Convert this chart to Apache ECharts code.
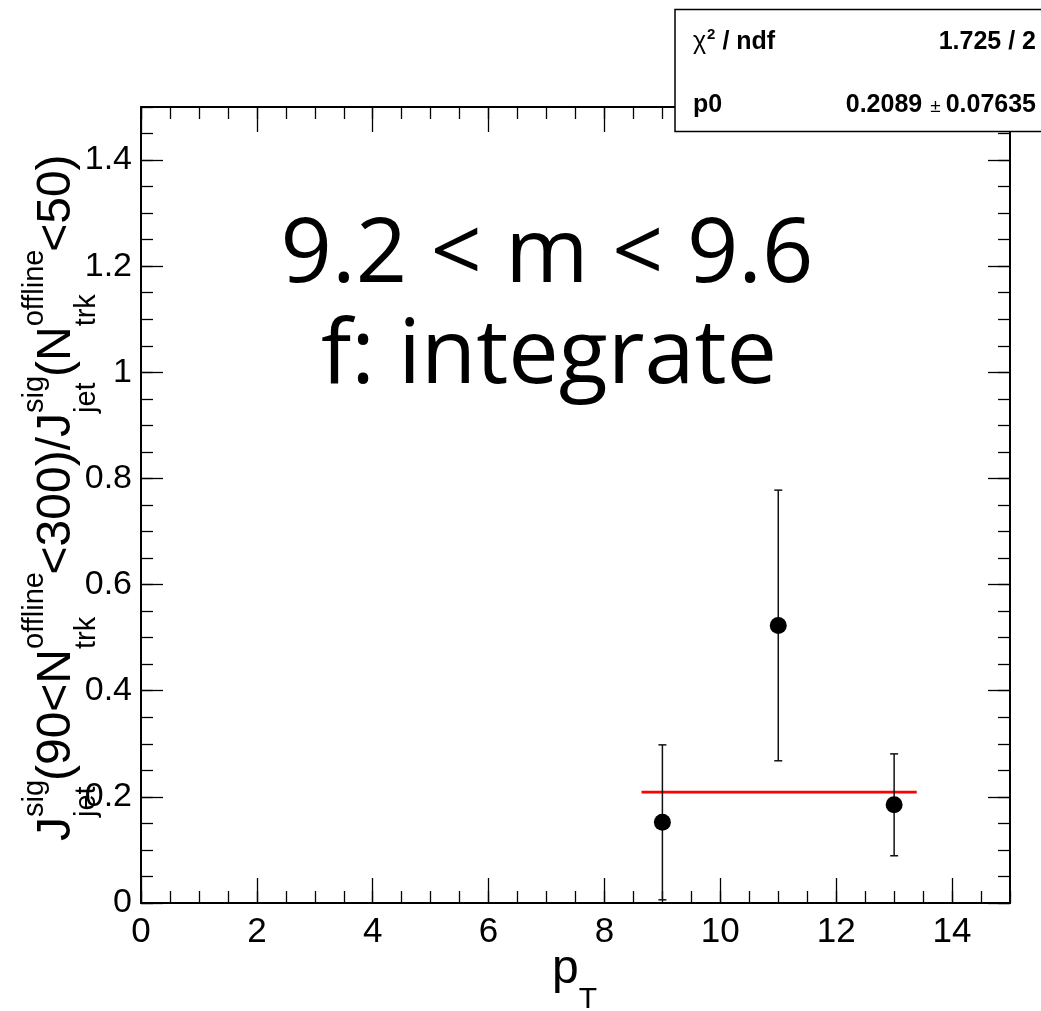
<!DOCTYPE html>
<html><head><meta charset="utf-8">
<script src="https://cdn.jsdelivr.net/npm/echarts@6/dist/echarts.min.js"></script>
<style>html,body{margin:0;padding:0;background:#fff}#c{width:1041px;height:1011px}</style>
</head><body><div id="c"></div>
<script>
// ---- data ----
const ptX = [9, 11, 13];
const ptY = [0.152, 0.523, 0.185];
const ptErr = [0.146, 0.255, 0.096];
const fitRange = [8.64, 13.39];
const fitP0 = 0.2089;
const statsRows = [['χ', '2', ' / ndf', '1.725 / 2'], ['p0', '', '', '0.2089', '±', '0.07635']];
const annotLines = ['9.2 < m < 9.6', 'f: integrate'];
const yTitleTokens = [['J'], ['sig', 'jet'], ['(90<N'], ['offline', 'trk'], ['<300)/J'], ['sig', 'jet'], ['(N'], ['offline', 'trk'], ['<50)']];
const xTitleTokens = ['p', 'T'];

// ---- helpers ----
const cv = document.createElement('canvas').getContext('2d');
function tw(t, size, fam, weight) { cv.font = (weight || 'normal') + ' ' + size + 'px "' + fam + '"'; cv.textBaseline = 'alphabetic'; return cv.measureText(t).width; }
function m2b(size, fam, weight) { cv.font = (weight || 'normal') + ' ' + size + 'px "' + fam + '"'; cv.textBaseline = 'middle'; const d = cv.measureText('H').actualBoundingBoxDescent; cv.textBaseline = 'alphabetic'; return d; }
const SANS = 'Liberation Sans';
function txt(x, baseline, str, size, opt) {
  opt = opt || {};
  const fam = opt.fam || SANS, weight = opt.weight || 'normal';
  return { type: 'text', x: x, y: baseline - m2b(size, fam, weight), z: 100,
    style: { text: str, fontSize: size, fontFamily: fam, fontWeight: weight, fill: '#000', verticalAlign: 'middle', align: opt.align || 'left' } };
}

// ---- y title (rotated) ----
const YF = 48, YS = 29, supDy = -27, subDy = 25;
const yChildren = [];
let cx = 0;
yTitleTokens.forEach(tk => {
  if (tk.length === 1) { yChildren.push(txt(cx, 0, tk[0], YF)); cx += tw(tk[0], YF, SANS); }
  else {
    yChildren.push(txt(cx, supDy, tk[0], YS));
    yChildren.push(txt(cx, subDy, tk[1], YS));
    cx += Math.max(tw(tk[0], YS, SANS), tw(tk[1], YS, SANS)) * 0.97;
  }
});

// ---- x title ----
const pW = tw(xTitleTokens[0], 48, SANS);
const xTitle = [txt(552, 983, xTitleTokens[0], 48), txt(552 + pW, 1008, xTitleTokens[1], 30)];

// ---- stats box ----
const SF = 25, RX = 1036;
const statEls = [];
statEls.push({ type: 'rect', z: 99, shape: { x: 675, y: 9.5, width: 400, height: 122 }, style: { fill: '#fff', stroke: '#000', lineWidth: 1.5 } });
// row 1
let sx = 693;
statEls.push(txt(sx, 49, statsRows[0][0], SF)); sx += tw(statsRows[0][0], SF, SANS) + 1;
statEls.push(txt(sx, 39, statsRows[0][1], 15, { weight: 'bold' })); sx += tw(statsRows[0][1], 15, SANS, 'bold');
statEls.push(txt(sx, 49, statsRows[0][2], SF, { weight: 'bold' }));
statEls.push(txt(RX, 49, statsRows[0][3], SF, { weight: 'bold', align: 'right' }));
// row 2
statEls.push(txt(693, 112, statsRows[1][0], SF, { weight: 'bold' }));
let rx = RX;
statEls.push(txt(rx, 112, statsRows[1][5], SF, { weight: 'bold', align: 'right' })); rx -= tw(statsRows[1][5], SF, SANS, 'bold') + 5;
statEls.push(txt(rx, 112, statsRows[1][4], 19, { align: 'right' })); rx -= tw(statsRows[1][4], 19, SANS) + 8;
statEls.push(txt(rx, 112, statsRows[1][3], SF, { weight: 'bold', align: 'right' }));

// ---- annotation ----
const annot = [
  txt(547, 282, annotLines[0], 90, { fam: 'Open Sans', align: 'center' }),
  txt(549, 383, annotLines[1], 90, { fam: 'Open Sans', align: 'center' })
];

// ---- axes ----
const XMIN = 0, XMAX = 15, YMIN = 0, YMAX = 1.5;
const lblStyle = { fontFamily: SANS, color: '#000' };
function xAx(pos, interval, len, showLine, showLabel) {
  return { type: 'value', position: pos, min: XMIN, max: XMAX, interval: interval,
    axisLine: { show: showLine, onZero: false, lineStyle: { color: '#000', width: 2 } },
    axisTick: { show: true, inside: true, length: len, lineStyle: { color: '#000', width: 1.3 } },
    axisLabel: { show: showLabel, fontSize: 35, margin: 12, showMaxLabel: false, ...lblStyle },
    splitLine: { show: false } };
}
function yAx(pos, interval, len, showLine, showLabel) {
  return { type: 'value', position: pos, min: YMIN, max: YMAX, interval: interval,
    axisLine: { show: showLine, onZero: false, lineStyle: { color: '#000', width: 2 } },
    axisTick: { show: true, inside: true, length: len, lineStyle: { color: '#000', width: 1.3 } },
    axisLabel: { show: showLabel, fontSize: 34, margin: 9, padding: [8, 0, 0, 0], showMaxLabel: false, ...lblStyle },
    splitLine: { show: false } };
}

const chart = echarts.init(document.getElementById('c'), null, { renderer: 'canvas' });
chart.setOption({
  animation: false,
  backgroundColor: '#fff',
  grid: { left: 141, right: 31, top: 107, bottom: 108, containLabel: false },
  xAxis: [xAx('bottom', 2, 25, true, true), xAx('bottom', 0.5, 12, false, false), xAx('top', 2, 25, true, false), xAx('top', 0.5, 12, false, false)],
  yAxis: [yAx('left', 0.2, 22, true, true), yAx('left', 0.05, 12, false, false), yAx('right', 0.2, 22, true, false), yAx('right', 0.05, 12, false, false)],
  series: [
    { type: 'line', xAxisIndex: 0, yAxisIndex: 0, data: fitRange.map(x => [x, fitP0]), symbol: 'none', z: 3,
      lineStyle: { color: '#ff0000', width: 2.6 } },
    { type: 'custom', xAxisIndex: 0, yAxisIndex: 0, z: 4,
      data: ptX.map((x, i) => [x, ptY[i], ptErr[i]]),
      renderItem: function (params, api) {
        const x = api.value(0), y = api.value(1), e = api.value(2);
        const t = api.coord([x, y + e]), b = api.coord([x, y - e]);
        const c = 4, st = { stroke: '#111', lineWidth: 1.5 };
        return { type: 'group', children: [
          { type: 'line', shape: { x1: t[0], y1: t[1], x2: b[0], y2: b[1] }, style: st },
          { type: 'line', shape: { x1: t[0] - c, y1: t[1], x2: t[0] + c, y2: t[1] }, style: st },
          { type: 'line', shape: { x1: b[0] - c, y1: b[1], x2: b[0] + c, y2: b[1] }, style: st }
        ] };
      } },
    { type: 'scatter', xAxisIndex: 0, yAxisIndex: 0, z: 5, data: ptX.map((x, i) => [x, ptY[i]]),
      symbol: 'circle', symbolSize: 17, itemStyle: { color: '#000', opacity: 1 } }
  ],
  graphic: { elements: [
    { type: 'group', x: 70, y: 841, rotation: Math.PI / 2, children: yChildren, z: 100 },
    ...xTitle, ...statEls, ...annot
  ] }
});
</script>
</body></html>
